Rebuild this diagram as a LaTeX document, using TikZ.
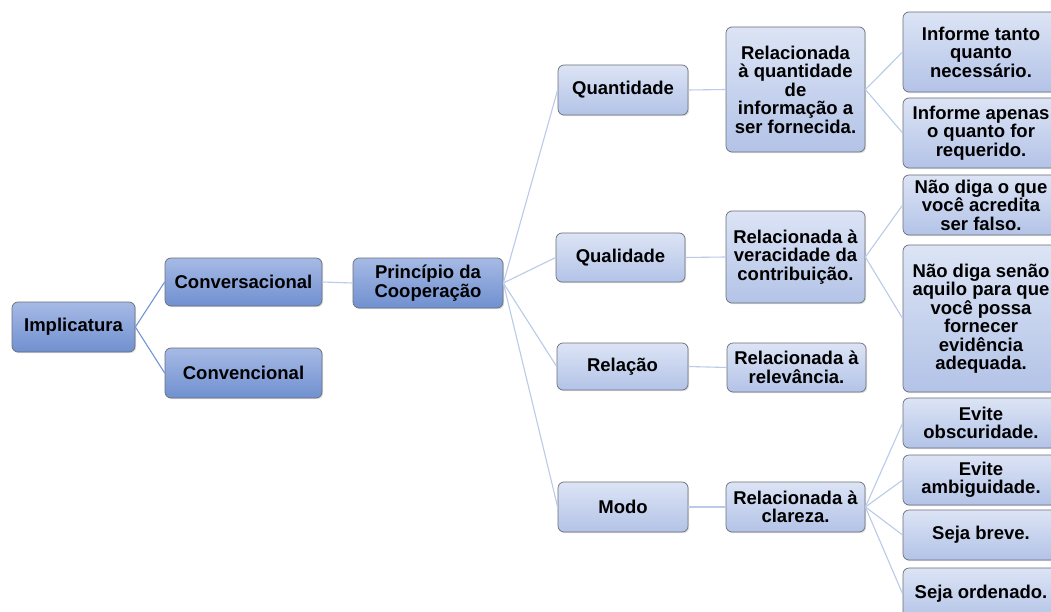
\documentclass[tikz,border=0pt]{standalone}
\usepackage{fontspec}
\setmainfont{Liberation Sans}
\usetikzlibrary{shadows}
\definecolor{dkTop}{HTML}{A6BAE5}
\definecolor{dkBot}{HTML}{7090D0}
\definecolor{ltTop}{HTML}{DCE4F5}
\definecolor{ltBot}{HTML}{B3C3E7}
\definecolor{lineDk}{HTML}{6F95D6}
\definecolor{lineLt}{HTML}{BACBEA}
\definecolor{boxEdge}{HTML}{6B6E78}
\tikzset{
  boxbase/.style={draw=boxEdge, line width=0.7pt, rounded corners=6pt, align=center,
    inner sep=1pt, font=\bfseries\fontsize{18.5}{18.5}\selectfont,
    drop shadow={opacity=0.25, shadow xshift=1.2pt, shadow yshift=-1.2pt}},
  dk/.style={boxbase, top color=dkTop, bottom color=dkBot},
  lt/.style={boxbase, top color=ltTop, bottom color=ltBot},
  sz/.style 2 args={minimum width=#1pt, minimum height=#2pt},
  conA/.style={draw=lineDk, line width=1.1pt},
  conB/.style={draw=lineLt, line width=1.1pt}
}
\begin{document}
\begin{tikzpicture}[x=1pt,y=-1pt]
\useasboundingbox (0,0) rectangle (1051,612);
\fill[white] (0,0) rectangle (1051,612);
\clip (0,0) rectangle (1051,612);
% level 1
\node[dk, sz={123}{50}] (imp) at (73.5,327) {Implicatura};
\node[dk, sz={157}{48}] (conv) at (243.5,282) {Conversacional};
\node[dk, sz={157}{50}] (conven) at (243.5,373) {Convencional};
\node[dk, sz={150}{50}] (princ) at (428,283) {Princípio da\\Cooperação};
% level 2
\node[lt, sz={130}{50}] (quant) at (623,90) {Quantidade};
\node[lt, sz={129}{49}] (qual) at (620.5,257.5) {Qualidade};
\node[lt, sz={131}{47}] (rel) at (622.5,366.5) {Relação};
\node[lt, sz={130}{50}] (modo) at (623,507) {Modo};
% level 3
\node[lt, sz={139}{125}] (rq) at (795.5,89.5) {Relacionada\\à quantidade\\de\\informação a\\ser fornecida.};
\node[lt, sz={139}{92}] (rv) at (795.5,257) {Relacionada à\\veracidade da\\contribuição.};
\node[lt, sz={139}{49}] (rr) at (796.5,367.5) {Relacionada à\\relevância.};
\node[lt, sz={139}{50}] (rc) at (795.5,507) {Relacionada à\\clareza.};
% level 4
\node[lt, sz={156}{80}] (it) at (981,52) {Informe tanto\\quanto\\necessário.};
\node[lt, sz={156}{70}] (ia) at (981,133) {Informe apenas\\o quanto for\\requerido.};
\node[lt, sz={156}{60}] (nq) at (981,205) {Não diga o que\\você acredita\\ser falso.};
\node[lt, sz={156}{147}] (ns) at (981,318.5) {Não diga senão\\aquilo para que\\você possa\\fornecer\\evidência\\adequada.};
\node[lt, sz={156}{50}] (eo) at (981,423) {Evite\\obscuridade.};
\node[lt, sz={156}{50}] (ea) at (981,480) {Evite\\ambiguidade.};
\node[lt, sz={156}{50}] (sb) at (981,535) {Seja breve.};
\node[lt, sz={156}{52}] (so) at (981,594) {Seja ordenado.};
% connectors
\draw[conA] (imp.east) -- (conv.west);
\draw[conA] (imp.east) -- (conven.west);
\draw[conB] (conv.east) -- (princ.west);
\draw[conB] (princ.east) -- (quant.west);
\draw[conB] (princ.east) -- (qual.west);
\draw[conB] (princ.east) -- (rel.west);
\draw[conB] (princ.east) -- (modo.west);
\draw[conB] (quant.east) -- (rq.west);
\draw[conB] (qual.east) -- (rv.west);
\draw[conB] (rel.east) -- (rr.west);
\draw[conB] (modo.east) -- (rc.west);
\draw[conB] (rq.east) -- (it.west);
\draw[conB] (rq.east) -- (ia.west);
\draw[conB] (rv.east) -- (nq.west);
\draw[conB] (rv.east) -- (ns.west);
\draw[conB] (rc.east) -- (eo.west);
\draw[conB] (rc.east) -- (ea.west);
\draw[conB] (rc.east) -- (sb.west);
\draw[conB] (rc.east) -- (so.west);
\end{tikzpicture}
\end{document}
